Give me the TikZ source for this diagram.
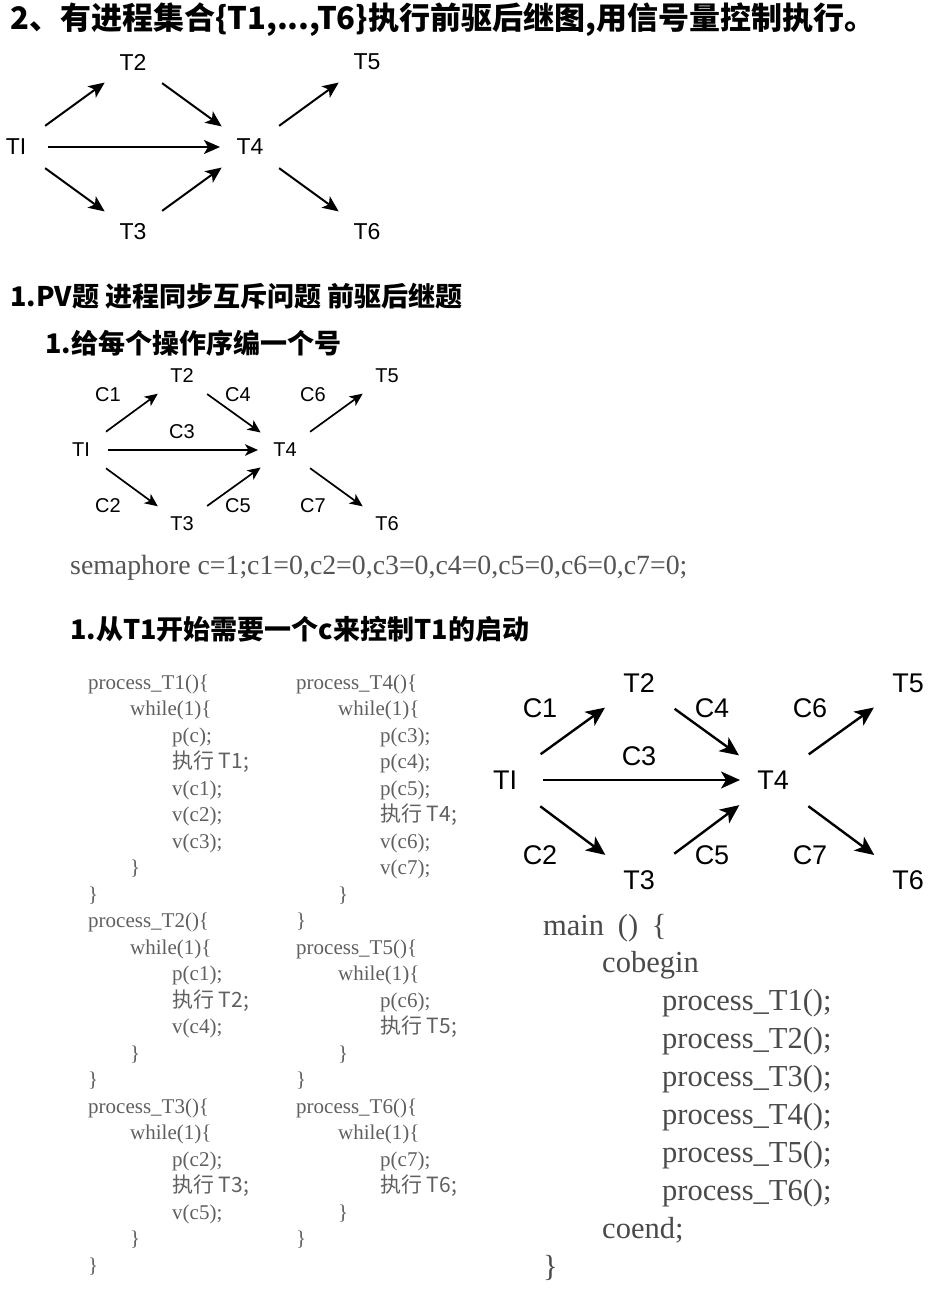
\documentclass[tikz,border=0pt]{standalone}
\usepackage{fontspec}
\setmainfont{Liberation Serif}
\newfontfamily\lsans{Liberation Sans}
\newfontfamily\cjk{Noto Sans CJK SC}
\usetikzlibrary{arrows.meta}
\newcommand\myfs[1]{\fontsize{#1}{#1}\selectfont}
\definecolor{codegray}{HTML}{606060}
\definecolor{maingray}{HTML}{4A4A4A}
\definecolor{semgray}{HTML}{555555}
\newcommand\zx{\cjk 执行}
\tikzset{
  head/.style={font=\cjk\bfseries, anchor=west, inner sep=0},
  labA/.style={font=\lsans\myfs{23}, inner sep=0},
  labB/.style={font=\lsans\myfs{20}, inner sep=0},
  labC/.style={font=\lsans\myfs{27}, inner sep=0},
  arrA/.style={line width=2pt, -{Stealth[length=16pt,width=14pt,inset=4pt]}, shorten <=36pt, shorten >=35pt},
  arrB/.style={line width=1.7pt, -{Stealth[length=13pt,width=11.5pt,inset=3.5pt]}, shorten <=31pt, shorten >=30pt},
  arrC/.style={line width=2.4pt, -{Stealth[length=19pt,width=17pt,inset=5pt]}, shorten <=44pt, shorten >=42pt},
  code/.style={font=\myfs{21}, text=codegray, anchor=base west, inner sep=0},
  mcode/.style={font=\myfs{30.5}, text=maingray, anchor=base west, inner sep=0},
}
\newcommand\cl[4]{\node[code] (#1) at (#2,{683+26.5*(#3)+6}) {#4};}
\newcommand\ml[4]{\node[mcode] (#1) at (#2,{926+37.9*(#3)+9}) {#4};}
\begin{document}
\begin{tikzpicture}[x=1pt,y=-1pt]
\useasboundingbox (0,0) rectangle (944,1289);
\fill[white] (0,0) rectangle (944,1289);
% headings
\node[head, font=\cjk\bfseries\myfs{31}] (title) at (10,20) {2、有进程集合\{T1,...,T6\}执行前驱后继图,用信号量控制执行。};
\node[head, font=\cjk\bfseries\myfs{27}] (h2) at (10,296) {1.PV题\ 进程同步互斥问题\ 前驱后继题};
\node[head, font=\cjk\bfseries\myfs{27}] (h3) at (45,343) {1.给每个操作序编一个号};
\node[head, font=\cjk\bfseries\myfs{27}] (h4) at (70,629) {1.从T1开始需要一个c来控制T1的启动};
% diagram 1
\node[labA] (a1) at (16,147) {TI};
\node[labA] (a2) at (133,62) {T2};
\node[labA] (a3) at (133,232) {T3};
\node[labA] (a4) at (250,147) {T4};
\node[labA] (a5) at (367,62) {T5};
\node[labA] (a6) at (367,232) {T6};
\draw[arrA] (a1.center) -- (a2.center);
\draw[arrA] (a2.center) -- (a4.center);
\draw[arrA, shorten <=32pt, shorten >=30pt] (a1.center) -- (a4.center);
\draw[arrA] (a1.center) -- (a3.center);
\draw[arrA] (a3.center) -- (a4.center);
\draw[arrA] (a4.center) -- (a5.center);
\draw[arrA] (a4.center) -- (a6.center);
% diagram 2
\node[labB] (b1) at (81,450) {TI};
\node[labB] (b2) at (182,376) {T2};
\node[labB] (b3) at (182,524) {T3};
\node[labB] (b4) at (285,450) {T4};
\node[labB] (b5) at (387,376) {T5};
\node[labB] (b6) at (387,524) {T6};
\node[labB] (bc1) at (108,395) {C1};
\node[labB] (bc2) at (108,506) {C2};
\node[labB] (bc3) at (182,432) {C3};
\node[labB] (bc4) at (238,395) {C4};
\node[labB] (bc5) at (238,506) {C5};
\node[labB] (bc6) at (313,395) {C6};
\node[labB] (bc7) at (313,506) {C7};
\draw[arrB] (b1.center) -- (b2.center);
\draw[arrB] (b2.center) -- (b4.center);
\draw[arrB, shorten <=27pt, shorten >=27pt] (b1.center) -- (b4.center);
\draw[arrB] (b1.center) -- (b3.center);
\draw[arrB] (b3.center) -- (b4.center);
\draw[arrB] (b4.center) -- (b5.center);
\draw[arrB] (b4.center) -- (b6.center);
\node[font=\myfs{27.8}, text=semgray, anchor=west, inner sep=0] (sem) at (70,568) {semaphore c=1;c1=0,c2=0,c3=0,c4=0,c5=0,c6=0,c7=0;};
% left code column
\cl{l0}{88}{0}{process\_T1()\{}
\cl{l1}{130}{1}{while(1)\{}
\cl{l2}{172}{2}{p(c);}
\cl{l3}{172}{3}{\zx\ T1;}
\cl{l4}{172}{4}{v(c1);}
\cl{l5}{172}{5}{v(c2);}
\cl{l6}{172}{6}{v(c3);}
\cl{l7}{130}{7}{\}}
\cl{l8}{88}{8}{\}}
\cl{l9}{88}{9}{process\_T2()\{}
\cl{l10}{130}{10}{while(1)\{}
\cl{l11}{172}{11}{p(c1);}
\cl{l12}{172}{12}{\zx\ T2;}
\cl{l13}{172}{13}{v(c4);}
\cl{l14}{130}{14}{\}}
\cl{l15}{88}{15}{\}}
\cl{l16}{88}{16}{process\_T3()\{}
\cl{l17}{130}{17}{while(1)\{}
\cl{l18}{172}{18}{p(c2);}
\cl{l19}{172}{19}{\zx\ T3;}
\cl{l20}{172}{20}{v(c5);}
\cl{l21}{130}{21}{\}}
\cl{l22}{88}{22}{\}}
% right code column
\cl{r0}{296}{0}{process\_T4()\{}
\cl{r1}{338}{1}{while(1)\{}
\cl{r2}{380}{2}{p(c3);}
\cl{r3}{380}{3}{p(c4);}
\cl{r4}{380}{4}{p(c5);}
\cl{r5}{380}{5}{\zx\ T4;}
\cl{r6}{380}{6}{v(c6);}
\cl{r7}{380}{7}{v(c7);}
\cl{r8}{338}{8}{\}}
\cl{r9}{296}{9}{\}}
\cl{r10}{296}{10}{process\_T5()\{}
\cl{r11}{338}{11}{while(1)\{}
\cl{r12}{380}{12}{p(c6);}
\cl{r13}{380}{13}{\zx\ T5;}
\cl{r14}{338}{14}{\}}
\cl{r15}{296}{15}{\}}
\cl{r16}{296}{16}{process\_T6()\{}
\cl{r17}{338}{17}{while(1)\{}
\cl{r18}{380}{18}{p(c7);}
\cl{r19}{380}{19}{\zx\ T6;}
\cl{r20}{338}{20}{\}}
\cl{r21}{296}{21}{\}}
% diagram 3
\node[labC] (c1) at (505,780) {TI};
\node[labC] (c2) at (639,683) {T2};
\node[labC] (c3) at (639,880) {T3};
\node[labC] (c4) at (773,780) {T4};
\node[labC] (c5) at (908,683) {T5};
\node[labC] (c6) at (908,880) {T6};
\node[labC] (cc1) at (540,708) {C1};
\node[labC] (cc2) at (540,855) {C2};
\node[labC] (cc3) at (639,756) {C3};
\node[labC] (cc4) at (712,708) {C4};
\node[labC] (cc5) at (712,855) {C5};
\node[labC] (cc6) at (810,708) {C6};
\node[labC] (cc7) at (810,855) {C7};
\draw[arrC] (c1.center) -- (c2.center);
\draw[arrC] (c2.center) -- (c4.center);
\draw[arrC, shorten <=38pt, shorten >=33pt] (c1.center) -- (c4.center);
\draw[arrC] (c1.center) -- (c3.center);
\draw[arrC] (c3.center) -- (c4.center);
\draw[arrC] (c4.center) -- (c5.center);
\draw[arrC] (c4.center) -- (c6.center);
% main block
\ml{m0}{543}{0}{main\hspace{0.45em}()\hspace{0.45em}\{}
\ml{m1}{602}{1}{cobegin}
\ml{m2}{662}{2}{process\_T1();}
\ml{m3}{662}{3}{process\_T2();}
\ml{m4}{662}{4}{process\_T3();}
\ml{m5}{662}{5}{process\_T4();}
\ml{m6}{662}{6}{process\_T5();}
\ml{m7}{662}{7}{process\_T6();}
\ml{m8}{602}{8}{coend;}
\ml{m9}{543}{9}{\}}
\end{tikzpicture}
\end{document}
